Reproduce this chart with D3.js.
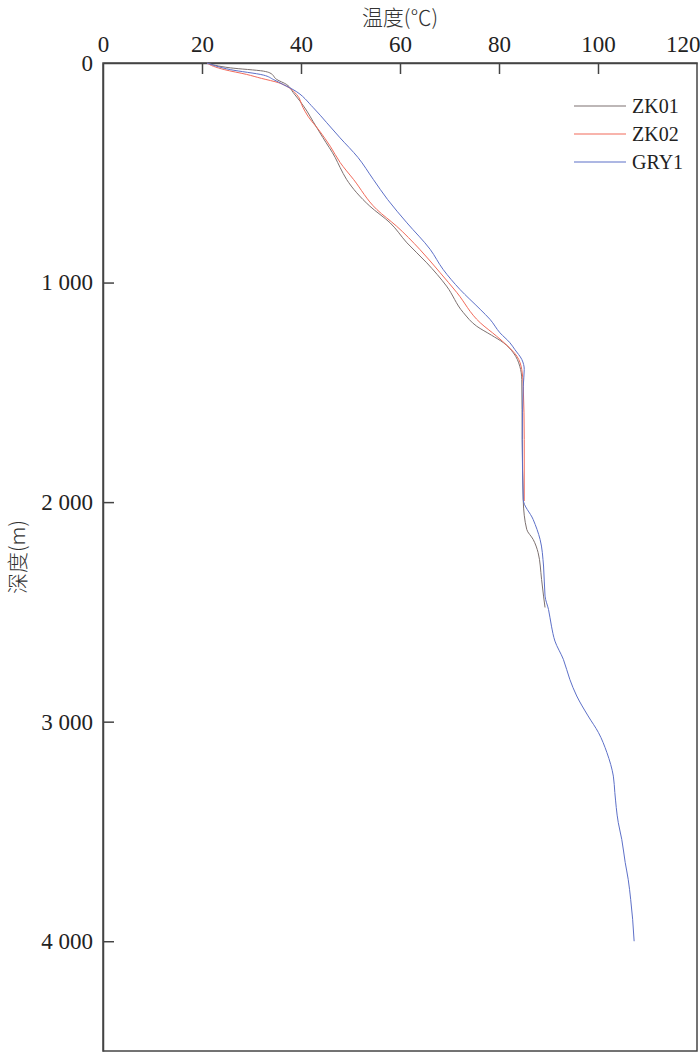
<!DOCTYPE html>
<html>
<head>
<meta charset="utf-8">
<script src="https://cdn.jsdelivr.net/npm/d3@7.9.0/dist/d3.min.js"></script>
<style>
  body { margin: 0; background: #fff; }
  svg { display: block; }
  .axis text { font-family: "Liberation Serif", "DejaVu Serif", serif; font-size: 23px; fill: #222; }
  .axis path, .axis line { stroke: #444; stroke-width: 1.5; }
  .title { font-family: "Noto Sans CJK SC", sans-serif; font-size: 21px; fill: #333; font-weight: 300; }
  .legend text { font-family: "Liberation Serif", serif; font-size: 20px; fill: #222; }
</style>
</head>
<body>
<svg width="700" height="1053"></svg>
<script>
// [depth (m), temperature (°C)]
const zk01 = [[0,21],[22,25.7],[37,32.4],[45,33.7],[75,35.1],[98,37.1],[134,38.4],[174,39.8],[219,41.2],[265,42.4],[339,44.4],[430,46.9],[476,47.9],[530,49.2],[652,53.9],[728,58],[819,61.4],[910,65.4],[1016,69.4],[1137,72.8],[1199,75.5],[1240,78.5],[1274,80.9],[1320,82.9],[1381,84.2],[1441,84.6],[1715,84.7],[1995,84.9],[2124,85.6],[2170,86.9],[2230,87.9],[2352,88.6],[2428,89],[2480,89.3]];
const zk02 = [[0,21],[15,22.3],[30,24.5],[52,29],[70,32],[90,35.5],[106,37.1],[143,39.1],[203,40.4],[242,41.4],[311,43.8],[379,45.9],[453,47.9],[530,50.6],[667,55.3],[743,59.3],[849,64],[955,68.1],[1046,71.5],[1183,76.2],[1244,79.5],[1290,81.8],[1335,83.6],[1396,84.6],[1472,84.9],[1715,85.1],[1995,85.1]];
const gry1 = [[0,21],[30,25.7],[55,32.4],[76,34.5],[98,36.4],[121,38.4],[204,42.5],[272,45.2],[341,47.9],[430,51.5],[530,54.6],[622,57.5],[728,61.4],[849,66.1],[940,68.7],[1031,72.1],[1122,76.2],[1168,78.2],[1229,80.2],[1274,82.2],[1305,83.2],[1350,84.6],[1396,85.1],[1472,84.9],[1715,84.7],[1988,84.9],[2079,86.9],[2170,88.3],[2291,89],[2428,89.3],[2489,90],[2565,90.6],[2633,91.3],[2716,93],[2807,94.3],[2883,95.7],[2974,98],[3050,100.1],[3141,101.8],[3248,103.1],[3323,103.4],[3460,104.1],[3536,104.8],[3642,105.5],[3718,106.1],[3809,106.6],[3900,107],[4000,107.3]];

const seriesNames = ['ZK01', 'ZK02', 'GRY1'];
const seriesData = [zk01, zk02, gry1];
const seriesColors = ['#7d7170', '#f26a5a', '#5d70c8'];
const tempTicks = [0, 20, 40, 60, 80, 100, 120];
const depthTicks = [0, 1000, 2000, 3000, 4000];

const svg = d3.select('svg');
const plotLeft = 103, plotRight = 697, plotTop = 63, plotBottom = 1051;

const x = d3.scaleLinear().domain([0, 120]).range([plotLeft, plotRight]);
const y = d3.scaleLinear().domain([0, 4500]).range([plotTop, plotBottom]);

const fmt = d3.formatLocale({ decimal: '.', thousands: ' ', grouping: [3], currency: ['', ''] }).format(',d');

// frame
svg.append('rect')
    .attr('x', plotLeft).attr('y', plotTop)
    .attr('width', plotRight - plotLeft).attr('height', plotBottom - plotTop)
    .attr('fill', 'none').attr('stroke', '#444').attr('stroke-width', 1.5);

const xAxis = svg.append('g')
    .attr('class', 'axis')
    .attr('transform', `translate(0,${plotTop})`)
    .call(d3.axisTop(x).tickValues(tempTicks).tickSize(-11).tickSizeOuter(0).tickPadding(11));

// last label squeezed inside the page edge
xAxis.selectAll('.tick').filter(d => d === 120).select('text')
    .attr('text-anchor', 'end').attr('dx', 3);

svg.append('g')
    .attr('class', 'axis')
    .attr('transform', `translate(${plotLeft},0)`)
    .call(d3.axisLeft(y).tickValues(depthTicks).tickFormat(fmt).tickSize(-11).tickSizeOuter(0).tickPadding(10));

// no tick marks at the corners
svg.selectAll('.axis .tick').filter(d => d === 0 || d === 120).select('line').remove();

svg.append('text')
    .attr('class', 'title')
    .attr('x', (plotLeft + plotRight) / 2).attr('y', 25)
    .attr('text-anchor', 'middle')
    .text('温度(℃)');

svg.append('text')
    .attr('class', 'title')
    .attr('transform', `translate(25,${(plotTop + plotBottom) / 2}) rotate(-90)`)
    .attr('text-anchor', 'middle')
    .text('深度(m)');

const line = d3.line().x(d => x(d[1])).y(d => y(d[0])).curve(d3.curveMonotoneY);

seriesData.forEach((data, i) => {
    svg.append('path')
        .attr('d', line(data))
        .attr('fill', 'none')
        .attr('stroke', seriesColors[i])
        .attr('stroke-width', 1);
});

const legend = svg.append('g').attr('class', 'legend');
seriesNames.forEach((name, i) => {
    const ly = 106 + i * 28;
    legend.append('line')
        .attr('x1', 574).attr('x2', 626).attr('y1', ly).attr('y2', ly)
        .attr('stroke', seriesColors[i]).attr('stroke-width', 1.2);
    legend.append('text')
        .attr('x', 632).attr('y', ly).attr('dy', '0.35em')
        .text(name);
});
</script>
</body>
</html>
